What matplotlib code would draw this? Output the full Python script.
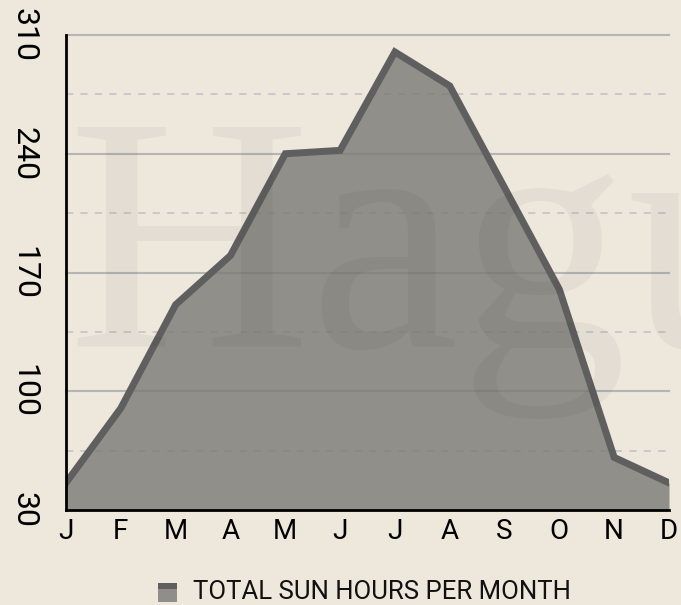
import matplotlib.pyplot as plt
from matplotlib.patches import Rectangle

# monthly sun hours
months = ['J', 'F', 'M', 'A', 'M', 'J', 'J', 'A', 'S', 'O', 'N', 'D']
sun_hours = [46, 90, 151, 180, 240, 242, 300, 280, 220, 160, 61, 46]
major_ticks = [30, 100, 170, 240, 310]
minor_lines = [65, 135, 205, 275]
legend_label = 'TOTAL SUN HOURS PER MONTH'

bg = '#ede7dc'
fill_col = '#797975'
line_col = '#5f5f5f'

plt.rcParams['font.family'] = ['Roboto', 'DejaVu Sans']

fig = plt.figure(figsize=(6.81, 6.05), dpi=100, facecolor=bg)
ax = fig.add_axes([66 / 681, 1 - 510 / 605, 603 / 681, 475 / 605])
ax.set_facecolor('none')

# watermark behind everything
fig.text(67 / 681, 1 - 347 / 605, 'Hague', family='Liberation Serif',
         fontsize=242, color='black', alpha=0.04, va='baseline', ha='left',
         zorder=0)

x = list(range(len(months)))
for v in major_ticks[1:]:
    ax.axhline(v, color='#b5b5b5', lw=1.5, zorder=0, clip_on=False)
for v in minor_lines:
    ax.axhline(v, color='#c6c6c6', lw=1.3, ls=(0, (4, 4)), zorder=0)

ax.fill_between(x, major_ticks[0], sun_hours, color=fill_col, alpha=0.8,
                lw=0, zorder=1)
ax.plot(x, sun_hours, color=line_col, lw=5, solid_joinstyle='miter', zorder=2)

ax.set_xlim(0, len(months) - 1)
ax.set_ylim(major_ticks[0], major_ticks[-1])
ax.set_xticks(x)
ax.set_xticklabels(months)
ax.set_yticks(major_ticks)
ax.set_yticklabels([str(t) for t in major_ticks], rotation=-90, va='center')
ax.tick_params(axis='x', length=0, pad=6, labelsize=20)
ax.tick_params(axis='y', length=0, pad=20, labelsize=23)

for s in ['top', 'right']:
    ax.spines[s].set_visible(False)
for s in ['left', 'bottom']:
    ax.spines[s].set_linewidth(2)
    ax.spines[s].set_color('black')
    ax.spines[s].set_zorder(3)

# legend drawn by hand: square with dark top band
fig.add_artist(Rectangle((158 / 681, 1 - 602 / 605), 19 / 681, 19 / 605,
                         transform=fig.transFigure, color='#8f8e8a', lw=0))
fig.add_artist(Rectangle((158 / 681, 1 - 589 / 605), 19 / 681, 6 / 605,
                         transform=fig.transFigure, color=line_col, lw=0))
fig.text(193 / 681, 1 - 592 / 605, legend_label, fontsize=18.5, va='center',
         ha='left', color='#111111')

fig.savefig('out.png', dpi=100, facecolor=bg)
